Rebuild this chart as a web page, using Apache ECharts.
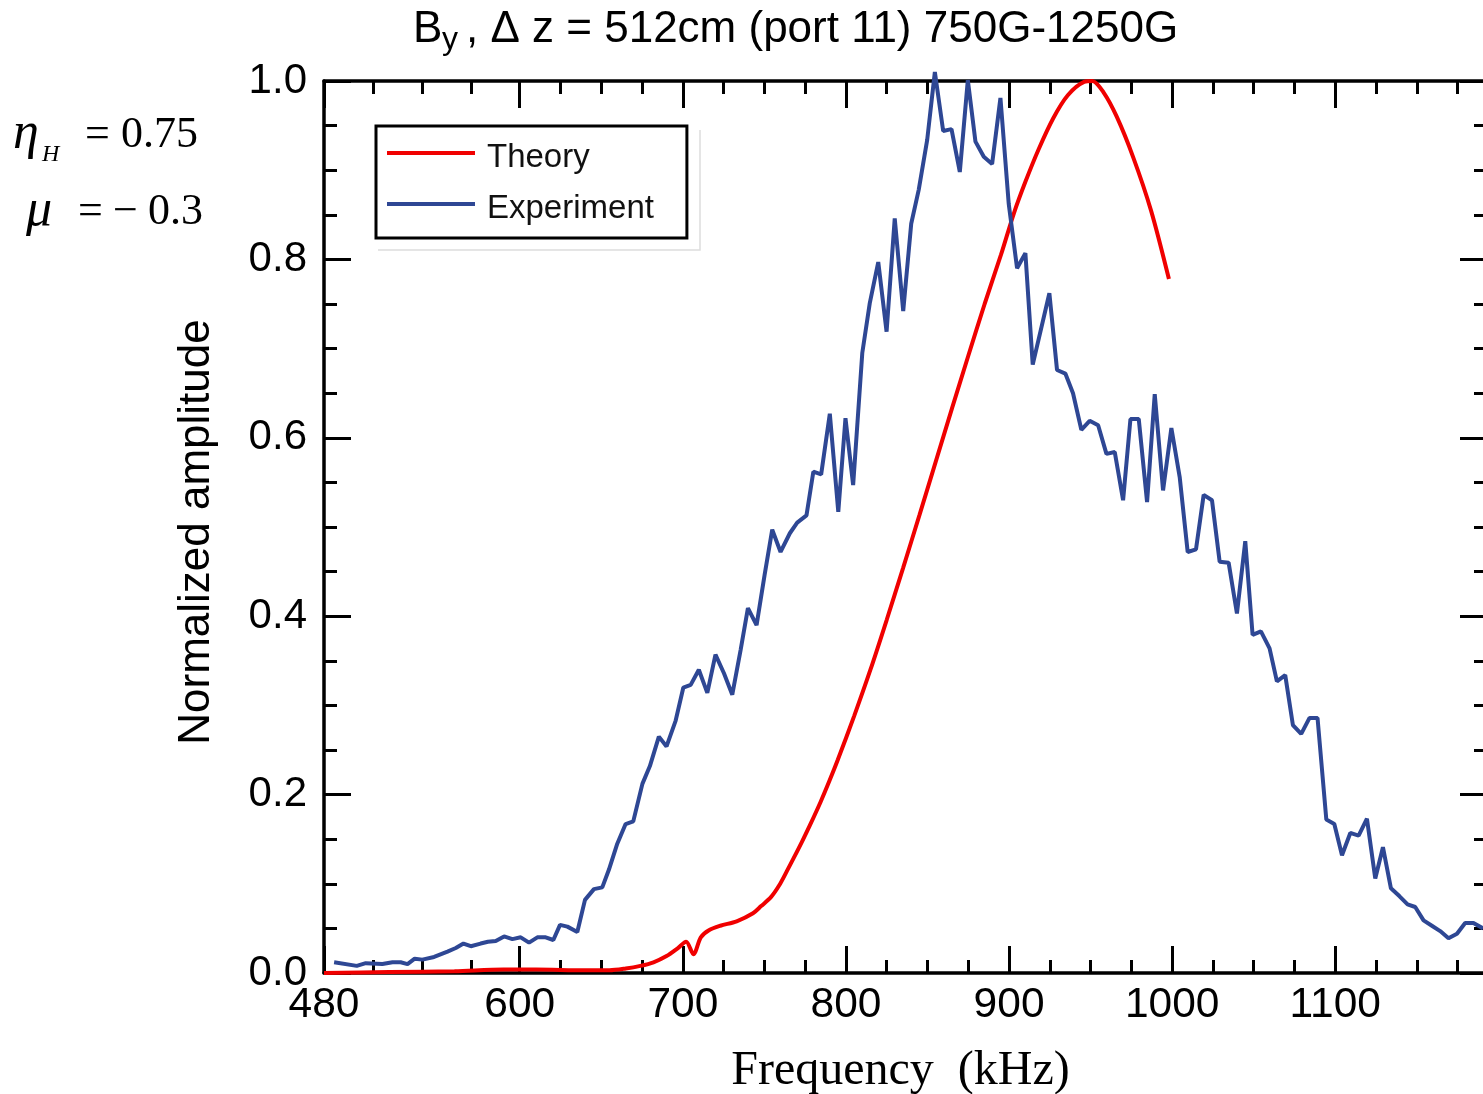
<!DOCTYPE html>
<html><head><meta charset="utf-8">
<script src="https://cdn.jsdelivr.net/npm/echarts@6/dist/echarts.min.js"></script>
<style>html,body{margin:0;padding:0;background:#fff}#c{width:1483px;height:1094px}</style>
</head><body><div id="c"></div>
<script>
// ---- data ----
const experimentPoints = [
[486.2,0.012],[500.1,0.008],[505.6,0.011],[515.8,0.010],[522,0.012],[527,0.012],[531.2,0.010],[535.6,0.016],
[540.3,0.015],[547.5,0.018],[555.7,0.024],[560.8,0.028],[565.5,0.033],[570,0.030],[576,0.033],[580.5,0.035],
[585.3,0.036],[590.4,0.041],[595.5,0.038],[600.6,0.040],[605.7,0.034],[610.8,0.040],[615.9,0.040],[620.6,0.037],
[624.7,0.054],[629.2,0.052],[635.3,0.046],[640,0.082],[645.5,0.094],[650.6,0.096],[654.7,0.116],[659.8,0.145],
[664.9,0.167],[669.6,0.170],[675.2,0.212],[679.8,0.232],[685.3,0.265],[690,0.254],[695.6,0.283],[700.3,0.320],
[704.8,0.323],[709.8,0.340],[715,0.314],[720,0.357],[725.2,0.336],[730.3,0.312],[735.4,0.362],[739.9,0.409],
[745.2,0.390],[750.1,0.446],[754.8,0.497],[759.9,0.472],[765.6,0.493],[770.1,0.505],[775.8,0.513],[780,0.562],
[784.8,0.559],[790.1,0.627],[795.3,0.517],[799.7,0.622],[804.4,0.547],[810,0.695],[814.6,0.751],[819.8,0.797],
[824.9,0.719],[829.9,0.846],[835.1,0.742],[840,0.840],[844.6,0.878],[849.8,0.934],[854.5,1.010],[859.6,0.944],
[864.7,0.946],[869.8,0.898],[874.7,1.001],[879.4,0.932],[884.5,0.915],[889.6,0.907],[894.7,0.981],[899.8,0.862],
[904.9,0.790],[910,0.807],[914.5,0.682],[924.7,0.762],[929.4,0.676],[934.5,0.672],[939.2,0.650],[944.3,0.609],
[949.4,0.619],[954.6,0.614],[959.7,0.582],[964.8,0.584],[969.9,0.530],[974.4,0.621],[979.5,0.621],[984.6,0.528],
[989.3,0.649],[994.4,0.541],[999.5,0.611],[1004.6,0.556],[1009.5,0.472],[1014.6,0.475],[1019.3,0.536],[1024.4,0.530],
[1029.1,0.461],[1034.6,0.460],[1039.7,0.403],[1044.8,0.484],[1049.3,0.379],[1054.4,0.383],[1059.7,0.364],[1064.2,0.327],
[1069.3,0.334],[1074,0.278],[1079.1,0.268],[1084.2,0.286],[1089.1,0.286],[1094.5,0.172],[1099.4,0.167],[1104.1,0.132],
[1109.2,0.157],[1114.3,0.154],[1119.4,0.173],[1124.5,0.106],[1129.2,0.141],[1134.1,0.095],[1139.4,0.086],[1144.3,0.077],
[1149,0.074],[1154.1,0.059],[1159.2,0.053],[1164.3,0.047],[1169.4,0.039],[1174.6,0.044],[1179.6,0.056],[1184.7,0.056],
[1190.6,0.050]
];
const theoryPoints = [
[480,0.000],[520,0.001],[560,0.002],[590,0.004],[610,0.004],[640,0.003],[655,0.003],[665,0.005],[674,0.008],
[682,0.012],[690,0.019],[697,0.028],[702,0.035],[706.5,0.021],[711,0.040],[716,0.048],[723,0.053],[733,0.058],
[743,0.067],[748,0.075],[754,0.085],[759,0.098],[764,0.115],[768,0.129],[773,0.147],[778,0.166],[784.5,0.192],
[790,0.216],[795,0.239],[805,0.288],[815,0.340],[825,0.396],[835,0.454],[845,0.513],[855,0.573],[865,0.633],
[875,0.692],[885,0.750],[895,0.805],[903,0.852],[910,0.887],[918,0.923],[927,0.958],[936,0.984],[946,0.999],
[951,1.000],[958,0.987],[966,0.960],[976,0.915],[987,0.855],[998,0.778]
];
const seriesNames = ['Theory', 'Experiment'];
const xMajorTicks = [480, 600, 700, 800, 900, 1000, 1100];
const xMinorTicks = [510, 540, 570, 625, 650, 675, 725, 750, 775, 825, 850, 875, 925, 950, 975, 1025, 1050, 1075, 1125, 1150, 1175];
const xRange = [480, 1193];
const yRange = [0, 1];
const yStep = 0.2;
const titleMain = 'B';
const titleSub = 'y';
const titleRest = ', Δ z = 512cm (port 11) 750G-1250G';
const xName = 'Frequency  (kHz)';
const yName = 'Normalized amplitude';

// ---- styling ----
const SANS = "'Liberation Sans', Arial, Helvetica, sans-serif";
const SERIF = "'Liberation Serif', 'Times New Roman', serif";
const BLACK = '#000';
const RED = '#f00000';
const BLUE = '#2e4794';
const tickStyle = { color: BLACK, width: 3 };
const lineStyleAxis = { color: BLACK, width: 3.5 };
// legend line drawn in the upper part of a taller icon box (line sits above the text centre)
const legendIcon = 'path://M0 0L88 0L88 4L0 4Z M0 14L1 14';

function xAxisDef(position, major) {
  return {
    type: 'value', min: xRange[0], max: xRange[1], position: position,
    axisLine: { show: major, onZero: false, lineStyle: lineStyleAxis },
    axisTick: { show: true, inside: true, length: major ? 27 : 13, lineStyle: tickStyle,
                customValues: major ? xMajorTicks : xMinorTicks },
    axisLabel: position === 'bottom' && major ? {
      show: true, customValues: xMajorTicks, formatter: v => String(v),
      fontSize: 42.5, fontFamily: SANS, color: BLACK, margin: 11
    } : { show: false },
    splitLine: { show: false },
    name: position === 'bottom' && major ? xName : '',
    nameLocation: 'middle', nameGap: 70, nameMoveOverlap: false,
    nameTextStyle: { fontFamily: SERIF, fontSize: 48, color: BLACK, lineHeight: 56, padding: [0, 10, 0, 0] }
  };
}
function yAxisDef(position) {
  const left = position === 'left';
  return {
    type: 'value', min: yRange[0], max: yRange[1], interval: yStep, position: position,
    axisLine: { show: true, onZero: false, lineStyle: lineStyleAxis },
    axisTick: { show: true, inside: true, length: 27, lineStyle: tickStyle },
    minorTick: { show: true, splitNumber: 4, length: 13, lineStyle: tickStyle },
    axisLabel: left ? { show: true, formatter: v => v.toFixed(1), fontSize: 42, fontFamily: SANS, color: BLACK, margin: 17 } : { show: false },
    splitLine: { show: false }, minorSplitLine: { show: false },
    name: left ? yName : '', nameLocation: 'middle', nameRotate: 90, nameGap: 102, nameMoveOverlap: false,
    nameTextStyle: { fontFamily: SANS, fontSize: 44, color: BLACK, lineHeight: 50, padding: [0, 10, 0, 0] }
  };
}
function txt(x, y, text, size, family, italic) {
  return { type: 'text', x: x, y: y, silent: true,
    style: { text: text, fontSize: size, fontFamily: family, fontStyle: italic ? 'italic' : 'normal',
             fill: BLACK, align: 'left', verticalAlign: 'middle' } };
}

const chart = echarts.init(document.getElementById('c'), null, { renderer: 'canvas' });
chart.setOption({
  backgroundColor: '#fff',
  animation: false,
  grid: { left: 324, top: 81, width: 1163, height: 892, containLabel: false, outerBoundsMode: 'none' },
  xAxis: [xAxisDef('bottom', true), xAxisDef('bottom', false), xAxisDef('top', true), xAxisDef('top', false)],
  yAxis: [yAxisDef('left'), yAxisDef('right')],
  legend: {
    data: seriesNames, orient: 'vertical', left: 376, top: 126,
    icon: legendIcon, symbolKeepAspect: false, itemWidth: 88, itemHeight: 14, itemGap: 11,
    padding: [12, 33, 9, 11], borderColor: BLACK, borderWidth: 3, selectedMode: false,
    itemStyle: { borderWidth: 0 },
    textStyle: { fontSize: 33, fontFamily: SANS, color: '#111', lineHeight: 40, padding: [0, 0, 0, 7] }
  },
  graphic: [
    txt(413, 30, titleMain, 44, SANS, false),
    txt(442, 40, titleSub, 32, SANS, false),
    txt(466, 30, titleRest, 44, SANS, false),
    txt(13, 134, 'η', 52, SERIF, true),
    txt(42, 155, 'H', 24, SERIF, true),
    txt(85, 135, '=', 44, SERIF, false),
    txt(121, 135, '0.75', 44, SERIF, false),
    txt(26, 211, 'μ', 52, SERIF, true),
    txt(78, 212, '=', 44, SERIF, false),
    txt(113, 212, '−', 44, SERIF, false),
    txt(148, 212, '0.3', 44, SERIF, false),
    { type: 'polyline', silent: true, shape: { points: [[378, 250], [700, 250], [700, 130]] },
      style: { stroke: '#dddddd', lineWidth: 1.5, fill: null } }
  ],
  series: [
    { type: 'line', name: seriesNames[0], data: theoryPoints, xAxisIndex: 0, yAxisIndex: 0,
      symbol: 'none', smooth: 0.3, lineStyle: { color: RED, width: 4 }, itemStyle: { color: RED }, z: 2 },
    { type: 'line', name: seriesNames[1], data: experimentPoints, xAxisIndex: 0, yAxisIndex: 0,
      symbol: 'none', smooth: false, clip: false, lineStyle: { color: BLUE, width: 4 }, itemStyle: { color: BLUE }, z: 3 }
  ]
});
</script>
</body></html>
